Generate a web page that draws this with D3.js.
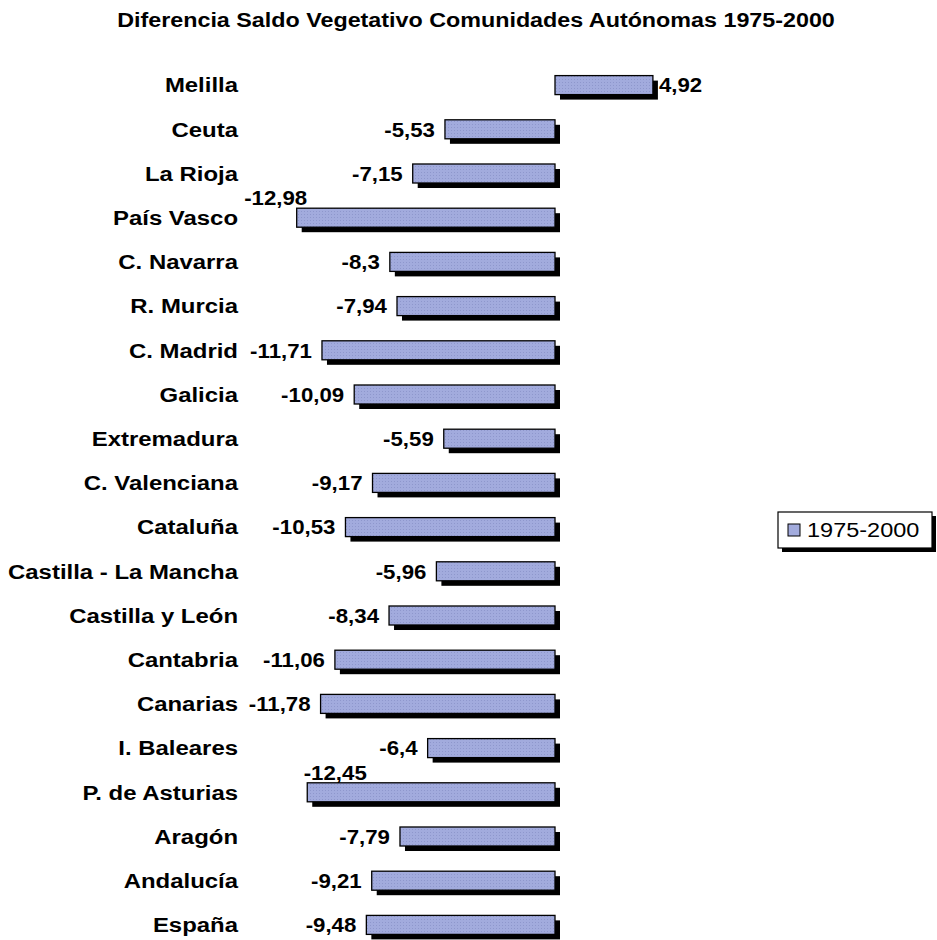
<!DOCTYPE html>
<html>
<head>
<meta charset="utf-8">
<script src="https://cdn.jsdelivr.net/npm/d3@7"></script>
<style>
  body { margin: 0; background: #fff; }
  text { font-family: "Liberation Sans", Arial, sans-serif; }
</style>
</head>
<body>
<div id="chart"></div>
<script>
const regions = [
  'Melilla', 'Ceuta', 'La Rioja', 'País Vasco', 'C. Navarra', 'R. Murcia',
  'C. Madrid', 'Galicia', 'Extremadura', 'C. Valenciana', 'Cataluña',
  'Castilla - La Mancha', 'Castilla y León', 'Cantabria', 'Canarias',
  'I. Baleares', 'P. de Asturias', 'Aragón', 'Andalucía', 'España',
];
const values = [
  4.92, -5.53, -7.15, -12.98, -8.3, -7.94, -11.71, -10.09, -5.59, -9.17,
  -10.53, -5.96, -8.34, -11.06, -11.78, -6.4, -12.45, -7.79, -9.21, -9.48,
];
const seriesName = '1975-2000';
const title = 'Diferencia Saldo Vegetativo Comunidades Autónomas 1975-2000';
// labels that Excel pushed above the bar (no room on the left)
const raisedLabels = { 'País Vasco': -21, 'P. de Asturias': 28 };

const width = 937;
const height = 940;
const fillColor = '#a2abdd';

const data = regions.map((name, i) => ({ name, value: values[i] }));
const fmt = (v) => String(v).replace('.', ',');
// the original text is a bit wider than Arial, stretch it horizontally
const stretch = (tx, ty, sx) => `translate(${tx},${ty}) scale(${sx},1)`;

const svg = d3.select('#chart').append('svg')
  .attr('width', width)
  .attr('height', height);

const defs = svg.append('defs');
const pat = defs.append('pattern')
  .attr('id', 'dots')
  .attr('width', 3)
  .attr('height', 3)
  .attr('patternUnits', 'userSpaceOnUse');
pat.append('rect').attr('width', 3).attr('height', 3).attr('fill', fillColor);
pat.append('rect').attr('x', 1).attr('y', 1).attr('width', 1).attr('height', 1)
  .attr('fill', '#8e97cc');

const x = d3.scaleLinear().domain([-13, 5]).range([296.3, 654.5]);
const y = d3.scaleBand().domain(regions).range([63, 947]).paddingInner(0.57).paddingOuter(0.285);

svg.append('text')
  .attr('transform', stretch(476, 20, 1.11))
  .attr('dy', '0.35em')
  .attr('text-anchor', 'middle')
  .attr('font-size', 21)
  .attr('font-weight', 'bold')
  .text(title);

const row = svg.append('g')
  .selectAll('g')
  .data(data)
  .join('g');

// shadow
row.append('rect')
  .attr('x', (d) => Math.min(x(0), x(d.value)) + 5)
  .attr('y', (d) => y(d.name) + 5)
  .attr('width', (d) => Math.abs(x(d.value) - x(0)))
  .attr('height', y.bandwidth())
  .attr('fill', '#000');

row.append('rect')
  .attr('x', (d) => Math.min(x(0), x(d.value)))
  .attr('y', (d) => y(d.name))
  .attr('width', (d) => Math.abs(x(d.value) - x(0)))
  .attr('height', y.bandwidth())
  .attr('fill', 'url(#dots)')
  .attr('stroke', '#000')
  .attr('stroke-width', 1.3);

// category labels
row.append('text')
  .attr('transform', (d) => stretch(238, y(d.name) + y.bandwidth() / 2, 1.14))
  .attr('dy', '0.35em')
  .attr('text-anchor', 'end')
  .attr('font-size', 21)
  .attr('font-weight', 'bold')
  .text((d) => d.name);

// value labels
const labelX = (d) => {
  if (d.value > 0) return x(d.value) + 6;
  if (raisedLabels[d.name] !== undefined) return x(d.value) + raisedLabels[d.name];
  return x(d.value) - 10;
};
const labelY = (d) => y(d.name) + y.bandwidth() / 2 - (raisedLabels[d.name] !== undefined ? 20 : 0);

row.append('text')
  .attr('transform', (d) => stretch(labelX(d), labelY(d), 1.06))
  .attr('dy', '0.35em')
  .attr('text-anchor', (d) => {
    if (d.value > 0) return 'start';
    if (raisedLabels[d.name] !== undefined) return 'middle';
    return 'end';
  })
  .attr('font-size', 21)
  .attr('font-weight', 'bold')
  .text((d) => fmt(d.value));

// legend
const legend = svg.append('g').attr('transform', 'translate(778,512)');
legend.append('rect')
  .attr('x', 4).attr('y', 4).attr('width', 154).attr('height', 36)
  .attr('fill', '#000');
legend.append('rect')
  .attr('width', 154).attr('height', 36)
  .attr('fill', '#fff')
  .attr('stroke', '#000')
  .attr('stroke-width', 1.2);
legend.append('rect')
  .attr('x', 10).attr('y', 12).attr('width', 12).attr('height', 12)
  .attr('fill', fillColor)
  .attr('stroke', '#000')
  .attr('stroke-width', 1);
legend.append('text')
  .attr('transform', stretch(29, 18, 1.12))
  .attr('dy', '0.35em')
  .attr('font-size', 21)
  .text(seriesName);
</script>
</body>
</html>
